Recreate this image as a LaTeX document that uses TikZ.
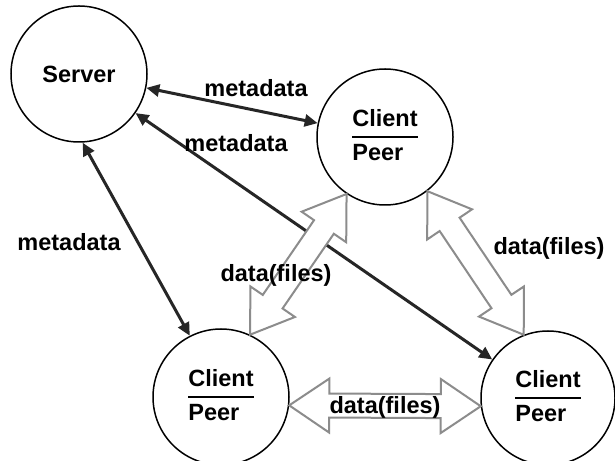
\documentclass[tikz,border=0pt]{standalone}
\usepackage{fontspec}
\setmainfont{Liberation Sans}
\usetikzlibrary{calc,arrows.meta}
\setlength{\arrayrulewidth}{1.5pt}
\renewcommand{\arraystretch}{1.22}
\newcommand{\cpeer}{\begin{tabular}{@{}l@{}}Client\\\hline Peer\end{tabular}}
\def\hl{40pt}
\def\hw{27pt}
\def\sw{12pt}
\newcommand{\hollowdbl}[2]{%
  \draw[dataarrow] (#1)
    -- ($(#1)!\hl!(#2)!\hw!90:(#2)$)
    -- ($(#1)!\hl!(#2)!\sw!90:(#2)$)
    -- ($(#2)!\hl!(#1)!\sw!-90:(#1)$)
    -- ($(#2)!\hl!(#1)!\hw!-90:(#1)$)
    -- (#2)
    -- ($(#2)!\hl!(#1)!\hw!90:(#1)$)
    -- ($(#2)!\hl!(#1)!\sw!90:(#1)$)
    -- ($(#1)!\hl!(#2)!\sw!-90:(#2)$)
    -- ($(#1)!\hl!(#2)!\hw!-90:(#2)$)
    -- cycle;}
\begin{document}
\begin{tikzpicture}[x=1pt,y=1pt,
  peer/.style={circle,draw=black,line width=1.5pt,minimum size=136pt,inner sep=0pt,
    font=\bfseries\fontsize{23.5}{27}\selectfont},
  meta/.style={line width=3pt,draw=black!85,
    {Triangle[length=13pt,width=12pt]}-{Triangle[length=13pt,width=12pt]}},
  dataarrow/.style={draw=black!45,line width=2pt,fill=white,line join=miter},
  lbl/.style={font=\bfseries\fontsize{23.5}{27}\selectfont,inner sep=1pt}]
\clip (0,0) rectangle (615,460);
\fill[white] (0,0) rectangle (615,460);

\node[peer] (S)  at (79,386) {Server};
\node[peer] (TR) at (385,323) {\cpeer};
\node[peer] (BL) at (221,63) {\cpeer};
\node[peer,minimum size=134pt] (BR) at (548,62) {\cpeer};

% metadata connectors
\draw[meta] (S) -- (TR);
\draw[meta] (S) -- (BR);
\draw[meta] (S.-87) -- (BL.117);

% data connectors
\coordinate (d1a) at (TR.236);
\coordinate (d1b) at (BL.65);
\coordinate (d2a) at (TR.-52);
\coordinate (d2b) at (BR.111);
\coordinate (d3a) at (BL.-7);
\coordinate (d3b) at (BR.187);
\hollowdbl{d1a}{d1b}
\hollowdbl{d2a}{d2b}
\hollowdbl{d3a}{d3b}

% labels
\node[lbl] (m1) at (256,372) {metadata};
\node[lbl] (m2) at (236,317) {metadata};
\node[lbl] (m3) at (69,218) {metadata};
\node[lbl] (f1) at (276,185) {data(files)};
\node[lbl] (f2) at (549,212) {data(files)};
\node[lbl] (f3) at (385,53) {data(files)};
\end{tikzpicture}
\end{document}
